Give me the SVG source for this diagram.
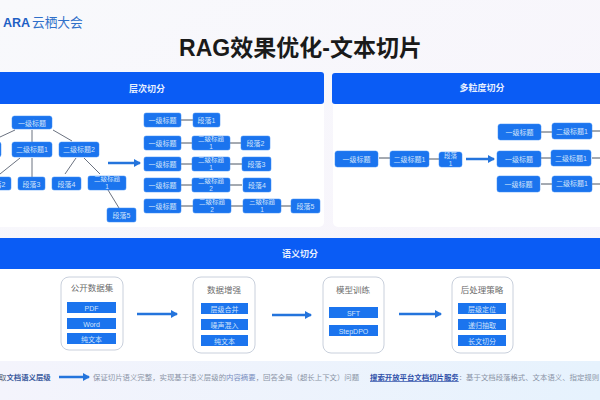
<svg xmlns="http://www.w3.org/2000/svg" width="600" height="400" viewBox="0 0 600 400">
<style>
text{font-family:"Liberation Sans","Noto Sans CJK SC",sans-serif}
.n{fill:#1b74ee;stroke:#3d8cf5;stroke-width:.5}
.t{fill:#cfe2fb;font-size:7px;text-anchor:middle}
.t2{fill:#cfe2fb;font-size:6.5px;text-anchor:middle}
.h{fill:#0a5cf5}
.ht{fill:#e8f0fe;font-size:9px;font-weight:700;text-anchor:middle}
.c{stroke:#6b7280;stroke-width:1;fill:none}
.d{stroke:#4b5563;stroke-width:1;fill:none}
.a{stroke:#2474dc;stroke-width:2.5;fill:none;marker-end:url(#ah)}
.box{fill:#fff;stroke:#c9d0dc;stroke-width:1}
.bt{fill:#6b6b6b;font-size:8.5px;text-anchor:middle}
.bar{fill:#1b74ee}
.note{font-size:7.4px;fill:#8a93a6}
</style>
<defs>
<marker id="ah" markerUnits="userSpaceOnUse" markerWidth="7" markerHeight="8" refX="6" refY="4" orient="auto"><path d="M0 0L7 4L0 8Z" fill="#2474dc"/></marker>
<linearGradient id="bg" x1="0" y1="0" x2="1" y2="1"><stop offset="0" stop-color="#f8f9fc"/><stop offset="1" stop-color="#f7f3fb"/></linearGradient>
<linearGradient id="band" x1="0" y1="0" x2="1" y2="0"><stop offset="0" stop-color="#f4f4fc"/><stop offset="1" stop-color="#e6f2fd"/></linearGradient>
</defs>
<rect width="600" height="400" fill="url(#bg)"/>
<g id="logo"><text x="3" y="26.500" font-size="12.500" font-weight="700" fill="#1f5fc4">ARA</text><text x="32" y="26.500" font-size="12.700" fill="#2f6fc9">云栖大会</text></g>
<text id="title" x="300.500" y="56" font-size="23" font-weight="700" fill="#1a1a1a" text-anchor="middle">RAG效果优化-文本切片</text>

<g id="panels">
<rect x="-6" y="100" width="330" height="127" rx="5" fill="#fff"/>
<rect x="333" y="100" width="273" height="127" rx="5" fill="#fff"/>
<rect x="-6" y="265" width="612" height="96" fill="#fff"/>
<rect y="361" width="600" height="39" fill="url(#band)"/>
</g>
<g id="header-1"><rect class="h" x="-6" y="72" width="330" height="32" rx="3"/><text class="ht" x="147" y="92">层次切分</text></g>
<g id="header-2"><rect class="h" x="332" y="73" width="274" height="31" rx="3"/><text class="ht" x="482" y="91">多粒度切分</text></g>
<g id="header-3"><rect class="h" x="-6" y="238" width="612" height="31"/><text class="ht" x="300" y="257">语义切分</text></g>

<g id="connectors">
<path class="c" d="M15 130L0 137M32 130V142M53 130L72 141M20 158L0 174M32 158V177M76 158L65 174M84 158L100 174M108 190L119 208"/>
<path class="d" d="M181 120H193M181 143H192M230 143H241M181 164H192M230 164H242M181 185H192M230 185H242M181 206H193M231 206H243M281 206H291"/>
<path class="d" d="M379 158H390M429 159H439M541 132H552M541 158H552M541 184H552M592 131H600M592 158H600M592 184H600"/>
<path class="a" d="M108 163H140"/>
<path class="a" d="M466 159H494"/>
<path class="a" d="M137 314H177"/>
<path class="a" d="M272 315H311"/>
<path class="a" d="M399 314H441"/>
<path class="a" d="M59 377H89"/>
</g>

<g id="n-root"><rect class="n" x="12" y="116" width="40" height="13" rx="2.500"/><text class="t" x="32" y="125.500">一级标题</text></g>
<g id="n-l"><rect class="n" x="-39" y="142" width="40" height="15" rx="2.500"/></g>
<g id="n-h21"><rect class="n" x="12" y="142" width="40" height="15" rx="2.500"/><text class="t" x="32" y="152">二级标题1</text></g>
<g id="n-h22"><rect class="n" x="59" y="142" width="40" height="15" rx="2.500"/><text class="t" x="79" y="152">二级标题2</text></g>
<g id="n-p2"><rect class="n" x="-18" y="177" width="29" height="13" rx="2"/><text class="t" x="-3.500" y="186.500">段落2</text></g>
<g id="n-p3"><rect class="n" x="18" y="177" width="27" height="13" rx="2"/><text class="t" x="31.500" y="186.500">段落3</text></g>
<g id="n-p4"><rect class="n" x="52" y="177" width="29" height="13" rx="2"/><text class="t" x="66.500" y="186.500">段落4</text></g>
<g id="n-h3"><rect class="n" x="88" y="176" width="38" height="14" rx="2"/><text class="t2" x="107" y="180.500">二级标题</text><text class="t2" x="107" y="189">1</text></g>
<g id="n-p5"><rect class="n" x="107" y="208" width="29" height="14" rx="2"/><text class="t" x="121.500" y="218">段落5</text></g>

<g id="r1"><rect class="n" x="144" y="113" width="37" height="14" rx="2"/><text class="t" x="162.500" y="123">一级标题</text></g>
<g id="r2"><rect class="n" x="144" y="136" width="37" height="14" rx="2"/><text class="t" x="162.500" y="146">一级标题</text></g>
<g id="r3"><rect class="n" x="144" y="157" width="37" height="14" rx="2"/><text class="t" x="162.500" y="167">一级标题</text></g>
<g id="r4"><rect class="n" x="144" y="178" width="37" height="14" rx="2"/><text class="t" x="162.500" y="188">一级标题</text></g>
<g id="r5"><rect class="n" x="144" y="199" width="37" height="14" rx="2"/><text class="t" x="162.500" y="209">一级标题</text></g>
<g id="r1b"><rect class="n" x="193" y="113" width="27" height="14" rx="2"/><text class="t" x="206.500" y="123">段落1</text></g>
<g id="r2b"><rect class="n" x="192" y="136" width="38" height="14" rx="2"/><text class="t2" x="211" y="140.500">二级标题</text><text class="t2" x="211" y="149">1</text></g>
<g id="r2c"><rect class="n" x="241" y="136" width="29" height="14" rx="2"/><text class="t" x="255.500" y="146">段落2</text></g>
<g id="r3b"><rect class="n" x="192" y="157" width="38" height="14" rx="2"/><text class="t2" x="211" y="161.500">二级标题</text><text class="t2" x="211" y="170">1</text></g>
<g id="r3c"><rect class="n" x="242" y="157" width="29" height="14" rx="2"/><text class="t" x="256.500" y="167">段落3</text></g>
<g id="r4b"><rect class="n" x="192" y="178" width="38" height="14" rx="2"/><text class="t2" x="211" y="182.500">二级标题</text><text class="t2" x="211" y="191">2</text></g>
<g id="r4c"><rect class="n" x="243" y="178" width="28" height="14" rx="2"/><text class="t" x="257" y="188">段落4</text></g>
<g id="r5b"><rect class="n" x="193" y="199" width="38" height="14" rx="2"/><text class="t2" x="212" y="203.500">二级标题</text><text class="t2" x="212" y="212">2</text></g>
<g id="r5c"><rect class="n" x="243" y="199" width="38" height="14" rx="2"/><text class="t2" x="262" y="203.500">三级标题</text><text class="t2" x="262" y="212">1</text></g>
<g id="r5d"><rect class="n" x="291" y="199" width="29" height="14" rx="2"/><text class="t" x="305.500" y="209">段落5</text></g>

<g id="m1"><rect class="n" x="335" y="151" width="43" height="16" rx="2.500"/><text class="t" x="356.500" y="162">一级标题</text></g>
<g id="m2"><rect class="n" x="390" y="151" width="39" height="16" rx="2.500"/><text class="t" x="409.500" y="162">二级标题1</text></g>
<g id="m3"><rect class="n" x="439" y="152" width="23" height="15" rx="2.500"/><text class="t2" x="450.500" y="157.500">段落</text><text class="t2" x="450.500" y="166">1</text></g>
<g id="m4"><rect class="n" x="498" y="124" width="43" height="16" rx="2.500"/><text class="t" x="519.500" y="135">一级标题</text></g>
<g id="m5"><rect class="n" x="497" y="151" width="44" height="16" rx="2.500"/><text class="t" x="519" y="162">一级标题</text></g>
<g id="m6"><rect class="n" x="497" y="176" width="43" height="16" rx="2.500"/><text class="t" x="518.500" y="187">一级标题</text></g>
<g id="m7"><rect class="n" x="552" y="123" width="40" height="16" rx="2.500"/><text class="t" x="572" y="134">二级标题1</text></g>
<g id="m8"><rect class="n" x="551" y="150" width="40" height="16" rx="2.500"/><text class="t" x="571" y="161">二级标题1</text></g>
<g id="m9"><rect class="n" x="552" y="176" width="40" height="16" rx="2.500"/><text class="t" x="572" y="186">二级标题1</text></g>

<g id="s1"><rect class="box" x="61" y="277" width="62" height="73" rx="8"/><text class="bt" x="92" y="291">公开数据集</text>
<rect class="bar" x="67" y="302" width="49" height="11"/><text class="t" x="91.500" y="310.500">PDF</text>
<rect class="bar" x="67" y="318" width="49" height="11"/><text class="t" x="91.500" y="326.500">Word</text>
<rect class="bar" x="67" y="333" width="49" height="11"/><text class="t" x="91.500" y="341.500">纯文本</text></g>
<g id="s2"><rect class="box" x="193" y="277" width="62" height="76" rx="8"/><text class="bt" x="224" y="293">数据增强</text>
<rect class="bar" x="201" y="303" width="47" height="11"/><text class="t" x="224.500" y="311.500">层级合并</text>
<rect class="bar" x="201" y="319" width="47" height="11"/><text class="t" x="224.500" y="327.500">噪声混入</text>
<rect class="bar" x="201" y="335" width="47" height="11"/><text class="t" x="224.500" y="343.500">纯文本</text></g>
<g id="s3"><rect class="box" x="323" y="277" width="61" height="76" rx="8"/><text class="bt" x="353" y="293">模型训练</text>
<rect class="bar" x="329" y="307" width="49" height="11"/><text class="t" x="353.500" y="315.500">SFT</text>
<rect class="bar" x="329" y="325" width="49" height="11"/><text class="t" x="353.500" y="333.500">StepDPO</text></g>
<g id="s4"><rect class="box" x="452" y="277" width="61" height="76" rx="8"/><text class="bt" x="482" y="293">后处理策略</text>
<rect class="bar" x="458" y="303" width="48" height="11"/><text class="t" x="482" y="311.500">层级定位</text>
<rect class="bar" x="458" y="319" width="48" height="11"/><text class="t" x="482" y="327.500">递归抽取</text>
<rect class="bar" x="458" y="335" width="48" height="11"/><text class="t" x="482" y="343.500">长文切分</text></g>

<g id="notes">
<text class="note" x="-1" y="380" style="fill:#5a6478">取<tspan font-weight="700" style="fill:#3a5a9c">文档语义层级</tspan></text>
<text class="note" x="93" y="380">保证切片语义完整，实现基于语义层级的<tspan style="fill:#7a8fc0">内容摘要</tspan>，回答全局（超长上下文）问题</text>
<text class="note" x="370" y="380"><tspan font-weight="700" text-decoration="underline" style="fill:#2f4fa8">搜索开放平台文档切片服务</tspan>：基于文档段落格式、文本语义、指定规则</text>
</g>
</svg>
